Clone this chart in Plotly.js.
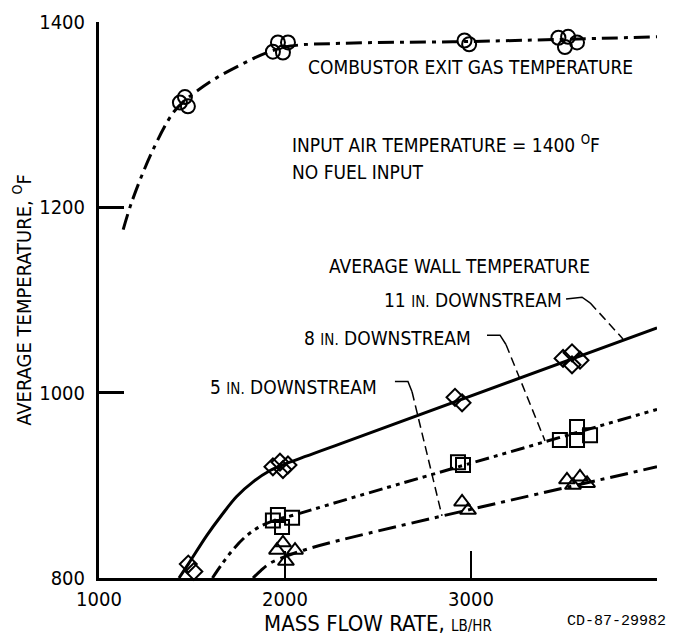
<!DOCTYPE html>
<html>
<head>
<meta charset="utf-8">
<script src="https://cdn.plot.ly/plotly-3.0.1.min.js"></script>
<style>html,body{margin:0;padding:0;background:#fff;}#chart{width:679px;height:636px;}</style>
</head>
<body>
<div id="chart"></div>
<script>
// ---- data ----
// Combustor exit gas temperature (open circles)
const exitX = [1435, 1462, 1478, 1935, 1962, 1989, 2016, 2965, 2990, 3470, 3505, 3522, 3570];
const exitY = [1313, 1319, 1309, 1368, 1378, 1367, 1378, 1380, 1376, 1383, 1373, 1384, 1378];
// Average wall temperature, 11 in. downstream (open diamonds)
const wall11X = [1480, 1510, 1935, 1973, 1989, 2016, 2914, 2952, 3495, 3543, 3543, 3586];
const wall11Y = [815, 807, 920, 925, 917, 922, 995, 989, 1037, 1043, 1030, 1035];
// 8 in. downstream (open squares)
const wall8X = [1935, 1962, 1984, 2038, 2930, 2957, 3478, 3570, 3570, 3640];
const wall8Y = [862, 868, 855, 865, 925, 922, 949, 963, 949, 954];
// 5 in. downstream (open triangles)
const wall5X = [1957, 1989, 2005, 2054, 2952, 2984, 3516, 3548, 3586, 3624];
const wall5Y = [830, 838, 818, 830, 882, 873, 906, 900, 909, 902];

// faired curves drawn through the data
const exitCurveX = [1130, 1180, 1290, 1398, 1460, 1530, 1634, 1774, 1903, 2030, 2300, 3000, 4000];
const exitCurveY = [1176, 1208, 1262, 1302, 1315, 1326, 1340, 1355, 1367, 1374, 1377, 1379, 1384];
const curve11X = [1430, 1480, 1580, 1660, 1740, 1830, 1920, 2000, 2300, 4000];
const curve11Y = [800, 815, 846, 868, 888, 904, 916, 923, 945, 1070];
const curve8X = [1610, 1661, 1722, 1790, 1860, 1940, 2050, 2300, 4000];
const curve8Y = [800, 815, 831, 845, 855, 862, 868, 883, 982];
const curve5X = [1828, 1870, 1920, 2000, 2100, 2300, 4000];
const curve5Y = [800, 808, 816, 823, 830, 841, 920];

// axis ticks
const xTicks = [1000, 2000, 3000, 4000];
const yTicks = [800, 1000, 1200, 1400];

const FONT = '"DejaVu Sans Condensed", "Liberation Sans Narrow", "Arial Narrow", sans-serif';
const sc = s => '<span style="font-size:15px">' + s + '</span>';

function curve(x, y, dash) {
  return {x: x, y: y, type: 'scatter', mode: 'lines', hoverinfo: 'skip',
          line: {color: '#000', width: 3, shape: 'spline', smoothing: 1, dash: dash}};
}
function pts(x, y, symbol, size) {
  return {x: x, y: y, type: 'scatter', mode: 'markers', cliponaxis: false,
          marker: {symbol: symbol, size: size, color: '#000', line: {color: '#000', width: 2}}};
}

const traces = [
  curve(exitCurveX, exitCurveY, '16px,6px,4px,6px'),
  curve(curve11X, curve11Y, 'solid'),
  curve(curve8X, curve8Y, '14px,5px,4px,5px,4px,5px'),
  curve(curve5X, curve5Y, '18px,6px,4px,6px'),
  pts(exitX, exitY, 'circle-open', 14),
  pts(wall11X, wall11Y, 'diamond-open', 13),
  pts(wall8X, wall8Y, 'square-open', 14),
  pts(wall5X, wall5Y, 'triangle-up-open', 14)
];

function txt(x, y, t, size) {
  return {x: x, y: y, xref: 'x', yref: 'y', text: t, showarrow: false,
          xanchor: 'left', yanchor: 'middle', font: {family: FONT, size: size || 19, color: '#000'}};
}

const layout = {
  width: 679, height: 636,
  margin: {l: 99, r: 22, t: 22, b: 58},
  paper_bgcolor: '#fff', plot_bgcolor: '#fff',
  showlegend: false,
  font: {family: FONT, size: 19, color: '#000'},
  xaxis: {
    range: [1000, 4000], tickvals: xTicks, ticktext: xTicks.map(String),
    ticks: 'inside', ticklen: 27, tickwidth: 2.5, tickcolor: '#000',
    showline: true, linewidth: 3, linecolor: '#000', showgrid: false, zeroline: false,
    tickfont: {family: FONT, size: 20, color: '#000'}, ticklabelstandoff: 1,
    title: {text: 'MASS FLOW RATE, ' + sc('LB/HR'), font: {family: FONT, size: 22, color: '#000'}, standoff: 4}
  },
  yaxis: {
    range: [800, 1400], tickvals: yTicks, ticktext: yTicks.map(String),
    ticks: 'inside', ticklen: 25, tickwidth: 2.5, tickcolor: '#000',
    showline: true, linewidth: 3, linecolor: '#000', showgrid: false, zeroline: false,
    tickfont: {family: FONT, size: 20, color: '#000'}, ticklabelstandoff: 7,
    title: {text: 'AVERAGE TEMPERATURE, <sup>O</sup>F', font: {family: FONT, size: 20, color: '#000'}, standoff: 3}
  },
  annotations: [
    txt(2113, 1351, 'COMBUSTOR EXIT GAS TEMPERATURE'),
    txt(2027, 1268, 'INPUT AIR TEMPERATURE = 1400 <sup>O</sup>F'),
    txt(2027, 1238, 'NO FUEL INPUT'),
    txt(2226, 1137, 'AVERAGE WALL TEMPERATURE'),
    txt(2520, 1100, '11 ' + sc('IN.') + ' DOWNSTREAM'),
    txt(2091, 1059, '8 ' + sc('IN.') + ' DOWNSTREAM'),
    txt(1586, 1006, '5 ' + sc('IN.') + ' DOWNSTREAM'),
    {x: 1.0197, y: -0.079, xref: 'paper', yref: 'paper', text: 'CD-87-29982', showarrow: false,
     xanchor: 'right', yanchor: 'middle', font: {family: '"Liberation Mono", "DejaVu Sans Mono", monospace', size: 15, color: '#000'}}
  ],
  shapes: [
    // leader for 11 in.
    {type: 'path', xref: 'x', yref: 'y', path: 'M3511,1101 L3597,1103 L3640,1097', line: {color: '#000', width: 1.5}},
    {type: 'line', xref: 'x', yref: 'y', x0: 3640, y0: 1097, x1: 3817, y1: 1058, line: {color: '#000', width: 1.5, dash: '9px,5px'}},
    // leader for 8 in.
    {type: 'path', xref: 'x', yref: 'y', path: 'M3086,1062 L3156,1062 L3188,1052', line: {color: '#000', width: 1.5}},
    {type: 'line', xref: 'x', yref: 'y', x0: 3188, y0: 1052, x1: 3398, y1: 948, line: {color: '#000', width: 1.5, dash: '9px,5px'}},
    // leader for 5 in.
    {type: 'path', xref: 'x', yref: 'y', path: 'M2591,1012 L2661,1012 L2683,1001', line: {color: '#000', width: 1.5}},
    {type: 'line', xref: 'x', yref: 'y', x0: 2683, y0: 1001, x1: 2844, y1: 867, line: {color: '#000', width: 1.5, dash: '9px,5px'}}
  ]
};

Plotly.newPlot('chart', traces, layout, {staticPlot: true, displayModeBar: false});
</script>
</body>
</html>
